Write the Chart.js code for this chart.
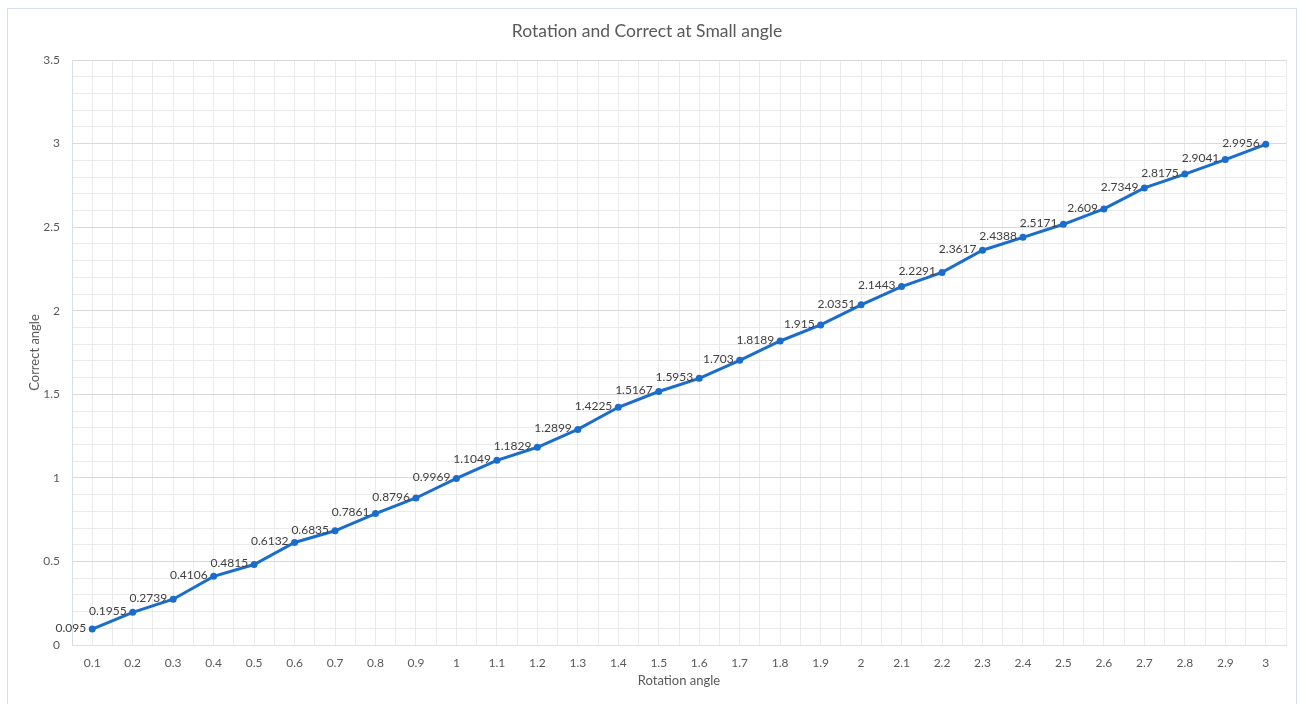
<!DOCTYPE html>
<html>
<head>
<meta charset="utf-8">
<title>Rotation and Correct at Small angle</title>
<script src="https://cdn.jsdelivr.net/npm/chart.js@4/dist/chart.umd.min.js"></script>
<style>
    html, body { margin: 0; padding: 0; background: #ffffff; }
    #wrap { width: 1300px; height: 704px; }
</style>
</head>
<body>
<div id="wrap"><canvas id="chart" width="1300" height="704"></canvas></div>
<script>
// rotation angles (x) and measured correct angles (y)
const ROTATION = [0.1, 0.2, 0.3, 0.4, 0.5, 0.6, 0.7, 0.8, 0.9, 1, 1.1, 1.2, 1.3, 1.4, 1.5,
    1.6, 1.7, 1.8, 1.9, 2, 2.1, 2.2, 2.3, 2.4, 2.5, 2.6, 2.7, 2.8, 2.9, 3];
const CORRECT = [0.095, 0.1955, 0.2739, 0.4106, 0.4815, 0.6132, 0.6835, 0.7861, 0.8796, 0.9969,
    1.1049, 1.1829, 1.2899, 1.4225, 1.5167, 1.5953, 1.703, 1.8189, 1.915, 2.0351,
    2.1443, 2.2291, 2.3617, 2.4388, 2.5171, 2.609, 2.7349, 2.8175, 2.9041, 2.9956];
const Y_TICKS = [0, 0.5, 1, 1.5, 2, 2.5, 3, 3.5];

const TEXT_COLOR = '#595959';
const LINE_COLOR = '#1a6dcc';
const FONT = 'Lato, "Open Sans", sans-serif';

// white background and the light outer frame
const framePlugin = {
    id: 'frame',
    beforeDraw(chart) {
        const ctx = chart.ctx;
        ctx.save();
        ctx.fillStyle = '#ffffff';
        ctx.fillRect(0, 0, chart.width, chart.height);
        ctx.strokeStyle = '#d3ddee';
        ctx.lineWidth = 1;
        ctx.strokeRect(7.5, 8.5, 1289, 720);
        ctx.restore();
    }
};

// value labels to the left of each point
const labelPlugin = {
    id: 'pointLabels',
    afterDatasetsDraw(chart) {
        const ctx = chart.ctx;
        const meta = chart.getDatasetMeta(0);
        ctx.save();
        ctx.font = '12px ' + FONT;
        ctx.fillStyle = '#404040';
        ctx.textAlign = 'right';
        ctx.textBaseline = 'middle';
        meta.data.forEach(function (pt, i) {
            ctx.fillText(String(CORRECT[i]), pt.x - 6, pt.y - 1);
        });
        ctx.restore();
    }
};

function isMultiple(v, step) {
    const r = Math.round(v / step);
    return Math.abs(v - r * step) < 1e-6;
}

let points = [];
for (let i = 0; i < ROTATION.length; i++) {
    points.push({x: ROTATION[i], y: CORRECT[i]});
}

const ctx = document.getElementById('chart').getContext('2d');
new Chart(ctx, {
    type: 'line',
    data: {
        datasets: [{
            label: 'Correct angle',
            data: points,
            borderColor: LINE_COLOR,
            backgroundColor: LINE_COLOR,
            borderWidth: 3,
            pointRadius: 3.5,
            pointBorderWidth: 0,
            fill: false,
            tension: 0
        }]
    },
    options: {
        responsive: false,
        animation: false,
        layout: { padding: { left: 8, right: 14, top: 8, bottom: 9 } },
        plugins: {
            legend: { display: false },
            tooltip: { enabled: false },
            title: {
                display: true,
                text: 'Rotation and Correct at Small angle',
                color: TEXT_COLOR,
                font: { family: FONT, size: 17.5, weight: 'normal' },
                padding: { top: 13, bottom: 18 }
            }
        },
        scales: {
            x: {
                type: 'linear',
                min: 0.05,
                max: 3.05,
                afterFit(scale) { scale.height = 50; },
                afterBuildTicks(scale) {
                    let t = [];
                    for (let k = 1; k <= 61; k++) t.push({ value: k * 0.05 });
                    scale.ticks = t;
                },
                grid: {
                    color: '#ebebeb',
                    drawTicks: false
                },
                border: { color: '#d9dfea' },
                ticks: {
                    color: TEXT_COLOR,
                    font: { family: FONT, size: 12 },
                    padding: 11,
                    autoSkip: false,
                    maxRotation: 0,
                    callback(value) {
                        if (!isMultiple(value, 0.1) || value < 0.09 || value > 3.01) return '';
                        return ROTATION[Math.round(value * 10) - 1];
                    }
                },
                title: {
                    display: true,
                    text: 'Rotation angle',
                    color: TEXT_COLOR,
                    font: { family: FONT, size: 13 },
                    padding: { top: 4, bottom: 6 }
                }
            },
            y: {
                min: 0,
                max: 3.5,
                afterFit(scale) { scale.width = 64; },
                afterBuildTicks(scale) {
                    let t = [];
                    for (let k = 0; k <= 35; k++) t.push({ value: k / 10 });
                    scale.ticks = t;
                },
                grid: {
                    color(c) {
                        return isMultiple(c.tick.value, 0.5) ? '#d9d9d9' : '#ebebeb';
                    },
                    drawTicks: false
                },
                border: { color: '#d9dfea' },
                ticks: {
                    color: TEXT_COLOR,
                    font: { family: FONT, size: 12 },
                    padding: 12,
                    autoSkip: false,
                    callback(value) {
                        if (!isMultiple(value, 0.5)) return '';
                        return Y_TICKS[Math.round(value * 2)];
                    }
                },
                title: {
                    display: true,
                    text: 'Correct angle',
                    color: TEXT_COLOR,
                    font: { family: FONT, size: 13 },
                    padding: { top: 19, bottom: 0 }
                }
            }
        }
    },
    plugins: [framePlugin, labelPlugin]
});
</script>
</body>
</html>
